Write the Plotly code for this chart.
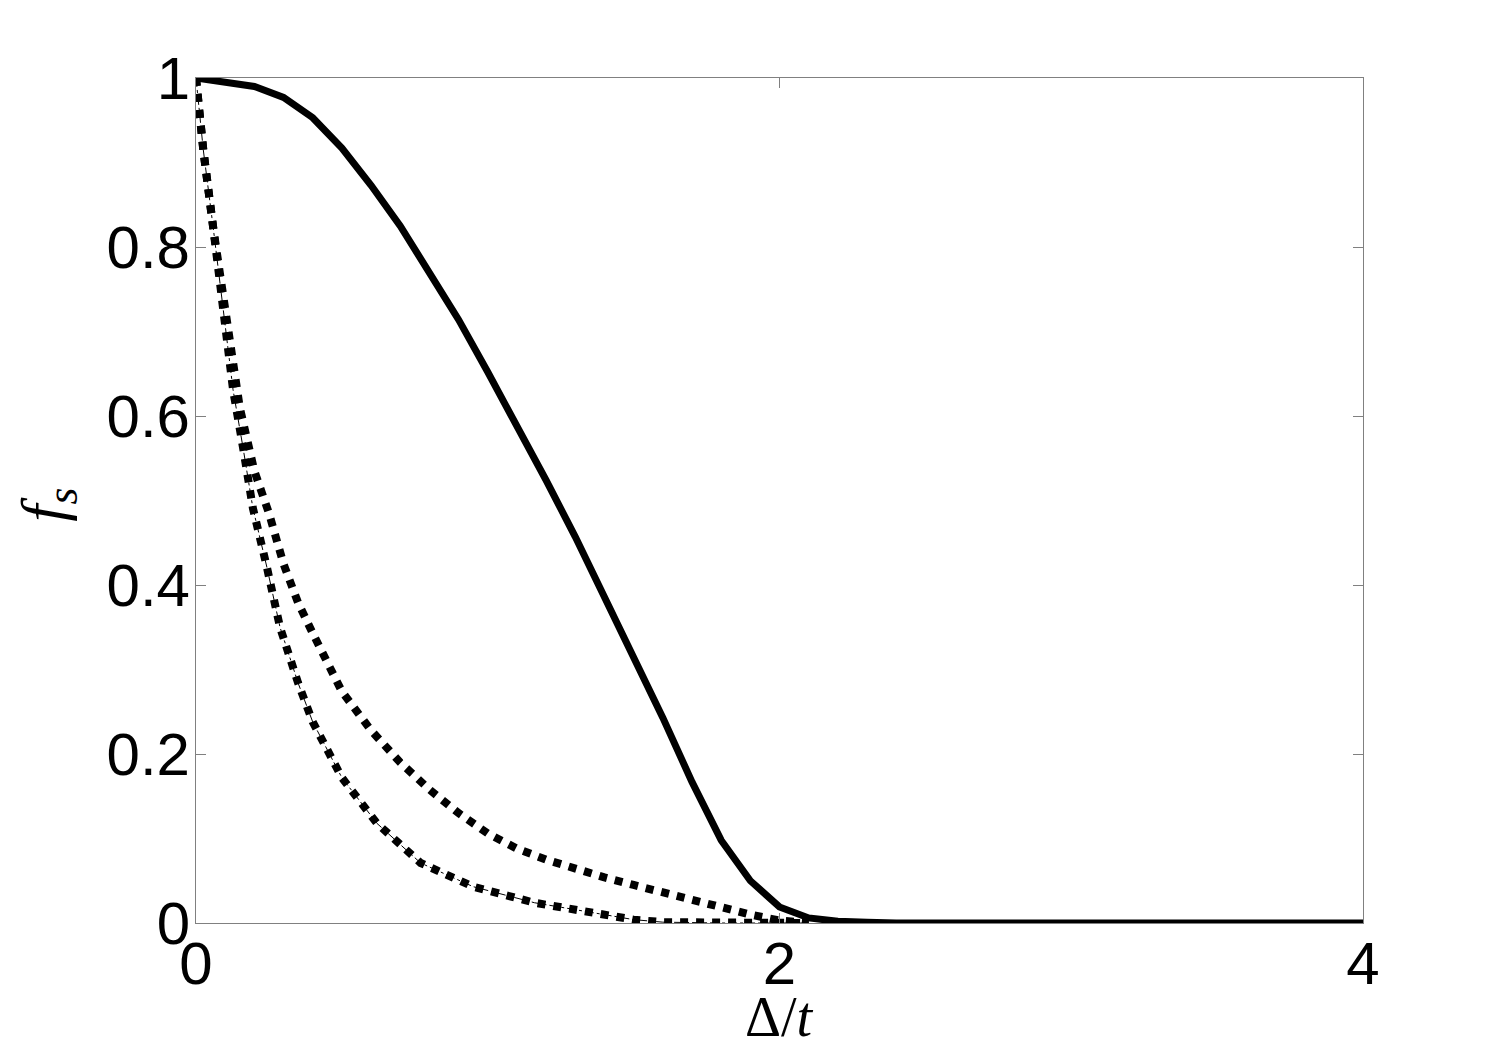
import plotly.graph_objects as go

# solid curve
x_solid = [0.0, 0.1, 0.2, 0.3, 0.4, 0.5, 0.6, 0.7, 0.8, 0.9, 1.0, 1.1, 1.2, 1.3,
           1.4, 1.5, 1.6, 1.7, 1.8, 1.9, 2.0, 2.1, 2.2, 2.3, 2.4, 3.0, 4.0]
f_solid = [1.0, 0.994, 0.99, 0.977, 0.953, 0.917, 0.873, 0.825, 0.770, 0.714, 0.652,
           0.589, 0.524, 0.457, 0.387, 0.316, 0.243, 0.167, 0.098, 0.050, 0.019,
           0.006, 0.002, 0.001, 0.0, 0.0, 0.0]

# upper dotted curve
x_dot = [0.0, 0.025, 0.06, 0.1, 0.15, 0.2, 0.25, 0.3, 0.35, 0.4, 0.45, 0.5, 0.6,
         0.7, 0.8, 0.9, 1.0, 1.1, 1.2, 1.3, 1.4, 1.5, 1.6, 1.7, 1.8, 1.9, 2.0, 2.1]
f_dot = [1.0, 0.915, 0.82, 0.72, 0.61, 0.535, 0.485, 0.425, 0.379, 0.343, 0.308,
         0.274, 0.228, 0.19, 0.158, 0.13, 0.106, 0.088, 0.075, 0.064, 0.054, 0.045,
         0.036, 0.027, 0.018, 0.010, 0.003, 0.0]

# lower dash-dot curve
x_dd = [0.0, 0.025, 0.06, 0.1, 0.127, 0.161, 0.195, 0.243, 0.288, 0.35, 0.4, 0.5,
        0.62, 0.77, 0.95, 1.16, 1.36, 1.5, 1.6, 1.8, 2.0, 2.1]
f_dd = [1.0, 0.915, 0.82, 0.71, 0.631, 0.563, 0.491, 0.421, 0.350, 0.284, 0.238,
        0.172, 0.118, 0.071, 0.043, 0.024, 0.012, 0.004, 0.001, 0.0, 0.0, 0.0]

x_ticks = [0, 2, 4]
y_ticks = [0, 0.2, 0.4, 0.6, 0.8, 1]
y_labels = ["0", "0.2", "0.4", "0.6", "0.8", "1"]

fig = go.Figure()
fig.add_trace(go.Scatter(x=x_dd, y=f_dd, mode="lines",
                         line=dict(color="black", width=1, dash="dashdot")))
fig.add_trace(go.Scatter(x=x_dd, y=f_dd, mode="lines",
                         line=dict(color="black", width=8, dash="8px,8px")))
fig.add_trace(go.Scatter(x=x_dot, y=f_dot, mode="lines",
                         line=dict(color="black", width=8, dash="8px,8px")))
fig.add_trace(go.Scatter(x=x_solid, y=f_solid, mode="lines",
                         line=dict(color="black", width=7)))

axis_style = dict(
    showgrid=False, zeroline=False, showline=True, linecolor="#808080", linewidth=1,
    mirror="ticks", ticks="inside", ticklen=10, tickcolor="#808080", automargin=False,
    tickfont=dict(family="Liberation Sans, Arial", size=60, color="black"),
)
fig.update_xaxes(range=[0, 4], tickvals=x_ticks, ticktext=[str(v) for v in x_ticks],
                 ticklabelstandoff=-12, **axis_style)
fig.update_yaxes(range=[0, 1], tickvals=y_ticks, ticktext=y_labels,
                 ticklabelstandoff=-7, **axis_style)

serif = "Liberation Serif, Times New Roman"
fig.add_annotation(text="Δ/<i>t</i>", x=2, xref="x", y=0, yref="paper",
                   yanchor="middle", yshift=-94, showarrow=False,
                   font=dict(family=serif, size=56, color="black"))
fig.add_annotation(text="<i>f</i><sub><i>s</i></sub>", x=0, xref="paper",
                   xanchor="center", xshift=-148, y=0.495, yref="paper",
                   yanchor="middle", textangle=-90, showarrow=False,
                   font=dict(family=serif, size=62, color="black"))

# page body adds an 8px offset, so the margins are shifted to compensate
fig.update_layout(
    width=1506, height=1054,
    margin=dict(l=188, r=151, t=70, b=139),
    plot_bgcolor="white", paper_bgcolor="white",
    showlegend=False,
)
fig.write_html("out.html")
